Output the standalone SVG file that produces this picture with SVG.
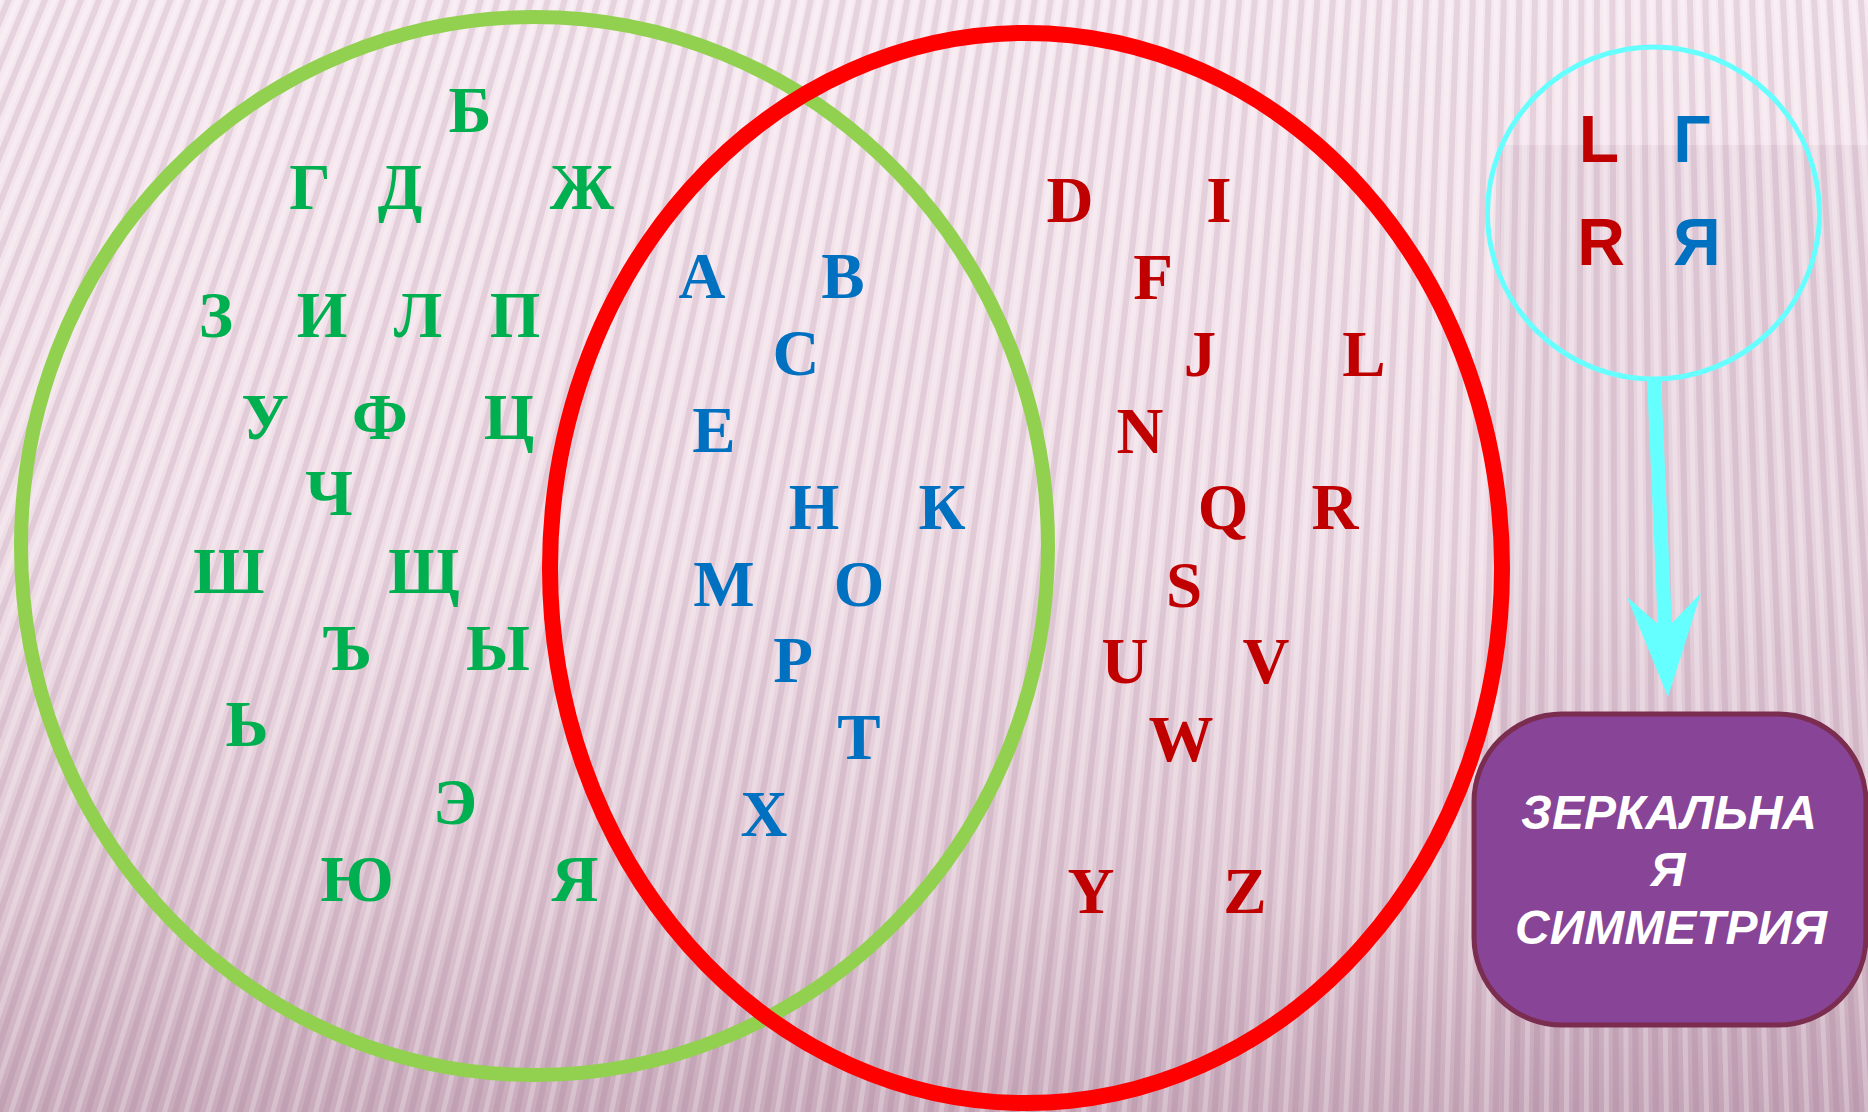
<svg xmlns="http://www.w3.org/2000/svg" width="1868" height="1112" viewBox="0 0 1868 1112">
  <defs>
    <linearGradient id="bg" x1="0" y1="0" x2="0" y2="1">
      <stop offset="0" stop-color="#F6E8EF"/>
      <stop offset="0.5" stop-color="#EFDDE6"/>
      <stop offset="0.8" stop-color="#DFC7D3"/>
      <stop offset="1" stop-color="#D0B3C3"/>
    </linearGradient>
    <linearGradient id="shade" x1="0" y1="0" x2="0" y2="1">
      <stop offset="0" stop-color="#8E6580" stop-opacity="0"/>
      <stop offset="1" stop-color="#8E6580" stop-opacity="0.1"/>
    </linearGradient>
    <style>
      .sr { font-family: "Liberation Serif", "Times New Roman", serif; font-weight: bold; font-size: 65px; text-anchor: middle; }
      .g { fill: #00B050; }
      .b { fill: #0070C0; }
      .r { fill: #C00000; }
      .ss { font-family: "Liberation Sans", Arial, sans-serif; font-weight: bold; font-size: 66px; text-anchor: middle; }
      .lbl { font-family: "Liberation Sans", Arial, sans-serif; font-weight: bold; font-style: italic; font-size: 48px; text-anchor: middle; fill: #FFFFFF; }
    </style>
  </defs>

  <g id="background">
    <rect x="0" y="0" width="1868" height="1112" fill="url(#bg)"/>
    <rect x="1500" y="145" width="368" height="967" fill="#8E6580" fill-opacity="0.09"/>
    <rect x="0" y="900" width="1868" height="212" fill="url(#shade)"/>
    <circle cx="1600" cy="-3800" r="4485" fill="none" stroke="#8D5F7D" stroke-opacity="0.15" stroke-width="1460" stroke-dasharray="6 12.3"/>
    <circle cx="1600" cy="-3800" r="4485" fill="none" stroke="#FFFFFF" stroke-opacity="0.25" stroke-width="1460" stroke-dasharray="5 13.3" stroke-dashoffset="9"/>
  </g>

  <g id="set-cyrillic">
    <ellipse cx="534.5" cy="546" rx="513.5" ry="529" fill="none" stroke="#92D050" stroke-width="14"/>
    <g class="sr g">
      <text x="470" y="132">Б</text>
      <text x="310" y="209">Г</text>
      <text x="400" y="209">Д</text>
      <text x="582" y="209">Ж</text>
      <text x="216" y="337">З</text>
      <text x="322" y="337">И</text>
      <text x="418" y="337">Л</text>
      <text x="515" y="337">П</text>
      <text x="265" y="439">У</text>
      <text x="380" y="439">Ф</text>
      <text x="509" y="439">Ц</text>
      <text x="329" y="515">Ч</text>
      <text x="229" y="593">Ш</text>
      <text x="424" y="593">Щ</text>
      <text x="347" y="670">Ъ</text>
      <text x="498" y="670">Ы</text>
      <text x="247" y="746">Ь</text>
      <text x="455" y="824">Э</text>
      <text x="357" y="901">Ю</text>
      <text x="575" y="901">Я</text>
    </g>
  </g>

  <g id="set-latin">
    <ellipse cx="1026" cy="568" rx="476" ry="535" fill="none" stroke="#FF0000" stroke-width="16"/>
    <g class="sr r">
      <text x="1070" y="222">D</text>
      <text x="1219" y="222">I</text>
      <text x="1153" y="299">F</text>
      <text x="1200" y="376">J</text>
      <text x="1364" y="376">L</text>
      <text x="1140" y="453">N</text>
      <text x="1223" y="529">Q</text>
      <text x="1335" y="529">R</text>
      <text x="1184" y="607">S</text>
      <text x="1125" y="683">U</text>
      <text x="1266" y="683">V</text>
      <text x="1181" y="761">W</text>
      <text x="1091" y="913">Y</text>
      <text x="1245" y="913">Z</text>
    </g>
  </g>

  <g id="intersection">
    <g class="sr b">
      <text x="702" y="298">A</text>
      <text x="843" y="298">B</text>
      <text x="796" y="375">C</text>
      <text x="714" y="452">E</text>
      <text x="814" y="529">H</text>
      <text x="942" y="529">К</text>
      <text x="724" y="606">M</text>
      <text x="859" y="606">O</text>
      <text x="793" y="682">P</text>
      <text x="859" y="759">T</text>
      <text x="764" y="836">X</text>
    </g>
  </g>

  <g id="mirror-examples">
    <circle cx="1653.5" cy="213" r="166" fill="none" stroke="#66FFFF" stroke-width="5"/>
    <text class="ss r" x="1599" y="162">L</text>
    <text class="ss b" x="1692" y="162">Г</text>
    <text class="ss r" x="1601" y="265">R</text>
    <text class="ss b" x="1697" y="265">Я</text>
  </g>

  <g id="connectors">
    <path d="M1654 379 L1665 628" fill="none" stroke="#66FFFF" stroke-width="14"/>
    <polygon points="1627,597 1658,624 1673,622 1701,593 1668,697" fill="#66FFFF"/>
  </g>

  <g id="label-mirror-symmetry">
    <rect x="1474" y="714" width="392" height="311" rx="88" ry="88" fill="#884496" stroke="#7A2D4F" stroke-width="5"/>
    <text class="lbl" x="1669" y="829">ЗЕРКАЛЬНА</text>
    <text class="lbl" x="1668" y="886">Я</text>
    <text class="lbl" x="1671" y="944">СИММЕТРИЯ</text>
  </g>
</svg>
